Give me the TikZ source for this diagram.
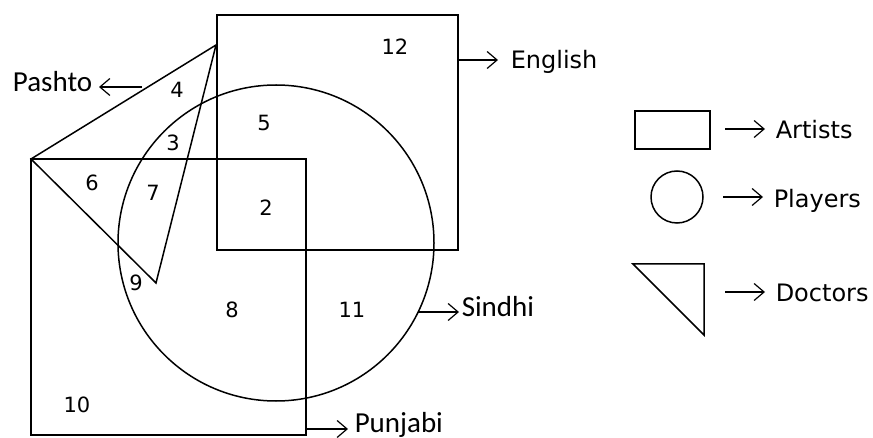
\documentclass[tikz,border=0pt]{standalone}
\usepackage{fontspec}
\setmainfont{DejaVu Sans}
\newfontfamily\langfont{Carlito}
\usetikzlibrary{arrows.meta}

\begin{document}
\begin{tikzpicture}[x=1pt,y=-1pt,line width=1.5pt,
	every node/.style={inner sep=0pt},
	num/.style={font=\fontsize{21}{21}\selectfont},
	key/.style={font=\fontsize{24}{24}\selectfont,anchor=base west},
	lang/.style={font=\langfont\fontsize{29}{29}\selectfont,anchor=base west},
	pointer/.style={-{Straight Barb[length=10pt,width=17pt,line width=1.2pt]},line width=1.2pt}]
	\useasboundingbox (0,0) rectangle (873,438);
	% the four sets
	\draw (217,15) rectangle (458,250);
	\draw (31,159) rectangle (306,435);
	\draw (276,243) circle (158);
	\draw (31,159) -- (216,45) -- (156,283) -- cycle;
	% region counts
	\node [num] (n12) at (395,47) {12};
	\node [num] (n4) at (177,90) {4};
	\node [num] (n5) at (264,123) {5};
	\node [num] (n3) at (173,143) {3};
	\node [num] (n6) at (92,183) {6};
	\node [num] (n7) at (153,193) {7};
	\node [num] (n2) at (266,208) {2};
	\node [num] (n9) at (136,283) {9};
	\node [num] (n8) at (232,310) {8};
	\node [num] (n11) at (352,310) {11};
	\node [num] (n10) at (77,405) {10};
	% set names
	\coordinate (engtip) at (458,60);
	\node [key] (english) at (510,69) {English};
	\draw [pointer] (engtip) -- (498,60);
	\coordinate (pashtip) at (142,87);
	\node [lang,anchor=base east] (pashto) at (93,92) {Pashto};
	\draw [pointer] (pashtip) -- (99,87);
	\coordinate (sindtip) at (418,312);
	\node [lang] (sindhi) at (461,317) {Sindhi};
	\draw [pointer] (sindtip) -- (459,312);
	\coordinate (punjtip) at (306,429);
	\node [lang] (punjabi) at (354,432) {Punjabi};
	\draw [pointer] (punjtip) -- (348,429);
	% legend
	\draw (635,111) rectangle (710,149);
	\draw (677,197) circle (26);
	\draw (633,264) -- (704,264) -- (704,335) -- cycle;
	\node [key] (artists) at (775,139) {Artists};
	\node [key] (players) at (773,208) {Players};
	\node [key] (doctors) at (775,302) {Doctors};
	\draw [pointer] (725,129) -- (765,129);
	\draw [pointer] (723,197) -- (763,197);
	\draw [pointer] (725,292) -- (765,292);
\end{tikzpicture}
\end{document}
